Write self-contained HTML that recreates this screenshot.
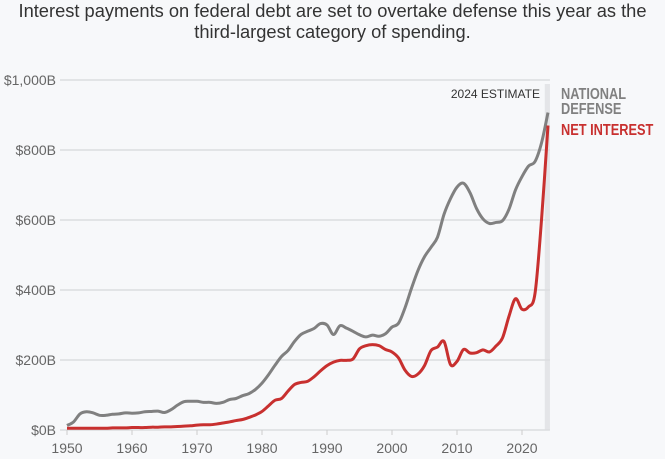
<!DOCTYPE html>
<html><head><meta charset="utf-8"><style>
body{margin:0;background:#f7f8fa;font-family:"Liberation Sans",sans-serif;}
#wrap{position:relative;width:665px;height:459px;overflow:hidden;background:#f7f8fa}
#title{position:absolute;left:0;top:0;width:665px;text-align:center;font-size:18.3px;line-height:21px;color:#333;white-space:nowrap}
svg{position:absolute;left:0;top:0}
</style></head><body>
<div id="wrap">
<div id="title">Interest payments on federal debt are set to overtake defense this year as the<br>third-largest category of spending.</div>
<svg id="svg" width="665" height="459"></svg>
</div>
<script>
const years=[];for(let y=1950;y<=2024;y++)years.push(y);
const defense=[13,23,46,52,49,42,42,45,46,49,48,49,52,53,54,50,58,71,81,82,82,79,79,76,79,87,90,98,104,116,134,158,185,210,227,253,273,282,290,304,300,273,298,291,282,272,266,271,268,275,294,305,349,405,456,495,522,551,616,661,694,705,678,633,603,590,593,598,631,686,724,754,767,820,907];
const interest=[5,5,5,5,5,5,5,6,6,6,7,7,7,8,8,9,9,10,11,12,14,15,15,17,20,23,27,30,36,43,53,69,85,90,111,130,136,139,152,169,184,194,199,199,203,232,241,244,241,230,223,206,171,153,160,184,227,237,253,187,196,230,220,221,229,223,240,263,325,375,345,352,390,600,870];
const yTicks=[0,200,400,600,800,1000];
const yLabels=["$0B","$200B","$400B","$600B","$800B","$1,000B"];
const xTicks=[1950,1960,1970,1980,1990,2000,2010,2020];
const svg=document.getElementById('svg');const NS='http://www.w3.org/2000/svg';
const X=y=>67+(y-1950)*6.5, Y=v=>430-v*0.35;
function mk(t,a,p){const e=document.createElementNS(NS,t);for(const k in a)e.setAttribute(k,a[k]);(p||svg).appendChild(e);return e;}
const band=mk('rect',{x:X(2023.5),y:84,width:X(2024.3)-X(2023.5),height:346,fill:'#e4e5e8'});


yTicks.forEach((v,i)=>{
 const l=mk('line',{x1:60,x2:X(2024.3),y1:Y(v),y2:Y(v),stroke:'#dcdde0','stroke-width':1.5});
 
 
 const t=mk('text',{x:56,y:Y(v)+5,'text-anchor':'end','font-size':14,fill:'#666'});t.textContent=yLabels[i];
 
 
});
xTicks.forEach(v=>{
 const l=mk('line',{x1:X(v),x2:X(v),y1:430,y2:435,stroke:'#ccc'});
 
 
 const t=mk('text',{x:X(v),y:453,'text-anchor':'middle','font-size':14,fill:'#666'});t.textContent=v;
 
 
});
function path(vals){const p=vals.map((v,i)=>[X(years[i]),Y(v)]);let d='M'+p[0].join(',');
 for(let i=0;i<p.length-1;i++){const p0=p[i-1]||p[i],p1=p[i],p2=p[i+1],p3=p[i+2]||p2;
 d+=`C${p1[0]+(p2[0]-p0[0])/6},${p1[1]+(p2[1]-p0[1])/6} ${p2[0]-(p3[0]-p1[0])/6},${p2[1]-(p3[1]-p1[1])/6} ${p2[0]},${p2[1]}`;}return d;}
const dl=mk('path',{d:path(defense),fill:'none',stroke:'#808080','stroke-width':3});


const il=mk('path',{d:path(interest),fill:'none',stroke:'#c8302f','stroke-width':3});


const est=mk('text',{x:540,y:98,'text-anchor':'end','font-size':12,fill:'#333'});est.textContent='2024 ESTIMATE';


[['NATIONAL',99,'#808080'],['DEFENSE',114,'#808080'],['NET INTEREST',135,'#c8302f']].forEach(a=>{
 const t=mk('text',{x:561,y:a[1],'font-size':16,'font-weight':'bold',fill:a[2],transform:'translate(561,0) scale(0.8,1) translate(-561,0)'});t.textContent=a[0];
 
 
});
</script>
</body></html>
